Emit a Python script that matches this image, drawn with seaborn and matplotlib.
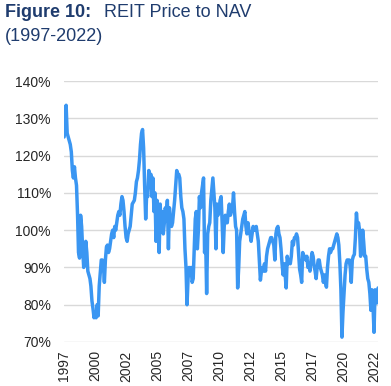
import pandas as pd
import numpy as np
import matplotlib
matplotlib.use("Agg")
import matplotlib.pyplot as plt
import seaborn as sns

# monthly REIT price / NAV (%), Jan 1997 onwards
p2nav = [
    125, 129, 133.5, 126, 125, 124, 123, 121, 116, 114, 117, 114,      # 1997
    112, 104, 94, 92.5, 104, 101, 95, 90, 92, 97, 94, 89,              # 1998
    88, 87, 85, 81, 79, 76.5, 78, 76.5, 80, 77, 85, 88.5,              # 1999
    92, 92, 91, 86, 92, 95.5, 96, 94, 95, 97, 99, 100,                 # 2000
    98, 101, 100, 102, 104, 105, 104, 107, 109, 108, 105, 101,         # 2001
    98, 97, 99, 100, 101, 104, 107, 107.5, 108, 110, 113, 114,         # 2002
    116, 119, 123, 126, 127, 122, 112, 103, 110, 109, 116, 114,        # 2003
    115, 109, 114, 105, 110, 97, 108, 104, 94, 107, 100, 105,          # 2004
    99, 102, 106, 104, 108, 95, 106, 102, 101, 102, 105, 108,          # 2005
    112, 116, 115, 115, 114, 109, 106, 105, 103, 95, 90, 80,           # 2006
    87, 90, 89, 90, 86, 87, 95, 103, 105, 95, 100, 109,                # 2007
    106, 110, 112, 114, 94, 98, 83, 99, 101, 102, 108, 111,            # 2008
    114, 110, 106, 95, 107, 104, 105, 108, 109, 102, 94, 101,          # 2009
    104, 102, 102, 105, 107, 104, 105, 106, 110, 105, 101, 100,        # 2010
    84.5, 90, 97, 99, 101, 103, 104, 105, 101, 99, 102, 100,           # 2011
    99, 97, 99, 101, 100, 100, 101, 99, 97, 92, 86.6, 89,              # 2012
    90, 89, 91, 89, 93, 95, 96, 97, 98, 98, 97, 96,                    # 2013
    92, 99, 100.5, 101, 99, 98, 95, 91, 88, 91, 88, 84.5,              # 2014
    93, 91, 92, 91, 93, 97, 96, 98, 98, 99, 98, 94,                    # 2015
    89.5, 88, 86, 94, 93, 93, 92, 93, 90, 91, 89, 92,                  # 2016
    94, 93, 90.5, 89, 87, 90, 92, 92, 90, 89, 88, 86,                  # 2017
    88, 86, 84.7, 90, 93, 95, 94, 95, 95, 96, 97, 98,                  # 2018
    99, 98, 96, 91, 84, 71.3, 78, 83, 88, 91, 92, 92,                  # 2019
    92, 90, 86, 92, 93, 93.5, 98, 104.6, 101, 102, 100, 93,            # 2020
    95, 100, 97, 93, 93, 89.5, 87, 86, 83, 78.5, 84, 80,               # 2021
    72.6, 84, 82, 80.5, 84.5,                                          # 2022
]
dates = pd.date_range("1997-01-01", periods=len(p2nav), freq="MS")
df = pd.DataFrame({"date": dates, "p2nav": p2nav})

tick_dates = pd.date_range("1997-01-01", periods=11, freq="30MS")
tick_labels = ["1997", "2000", "2002", "2005", "2007", "2010",
               "2012", "2015", "2017", "2020", "2022"]
y_ticks = [70, 80, 90, 100, 110, 120, 130, 140]

sns.set_style("white")
plt.rcParams["font.family"] = ["Liberation Sans", "DejaVu Sans"]

fig = plt.figure(figsize=(3.91, 3.86), dpi=100)
ax = fig.add_axes([0.164, 0.114, 0.803, 0.676])

sns.lineplot(data=df, x="date", y="p2nav", ax=ax, color="#3a96f2", linewidth=2.5)

ax.set_ylim(70, 140)
ax.set_xlim(dates[0], dates[-1])
ax.set_yticks(y_ticks)
ax.set_yticklabels([f"{v}%" for v in y_ticks], fontsize=10, color="#262626")
ax.set_xticks(tick_dates)
ax.set_xticklabels(tick_labels, rotation=90, fontsize=10, color="#262626")
ax.tick_params(axis="y", length=0, pad=9.5)
ax.tick_params(axis="x", length=0, pad=6)
ax.grid(axis="y", color="#d9d9d9", linewidth=1)
ax.set_axisbelow(True)
for s in ax.spines.values():
    s.set_visible(False)
ax.set_xlabel("")
ax.set_ylabel("")

navy = "#1f3c6e"
fig.text(0.013, 0.955, "Figure 10:", fontsize=13, fontweight="bold", color=navy, va="baseline")
fig.text(0.265, 0.955, "REIT Price to NAV", fontsize=13, color=navy, va="baseline")
fig.text(0.013, 0.893, "(1997-2022)", fontsize=13, color=navy, va="baseline")

fig.savefig("out.png", dpi=100)
